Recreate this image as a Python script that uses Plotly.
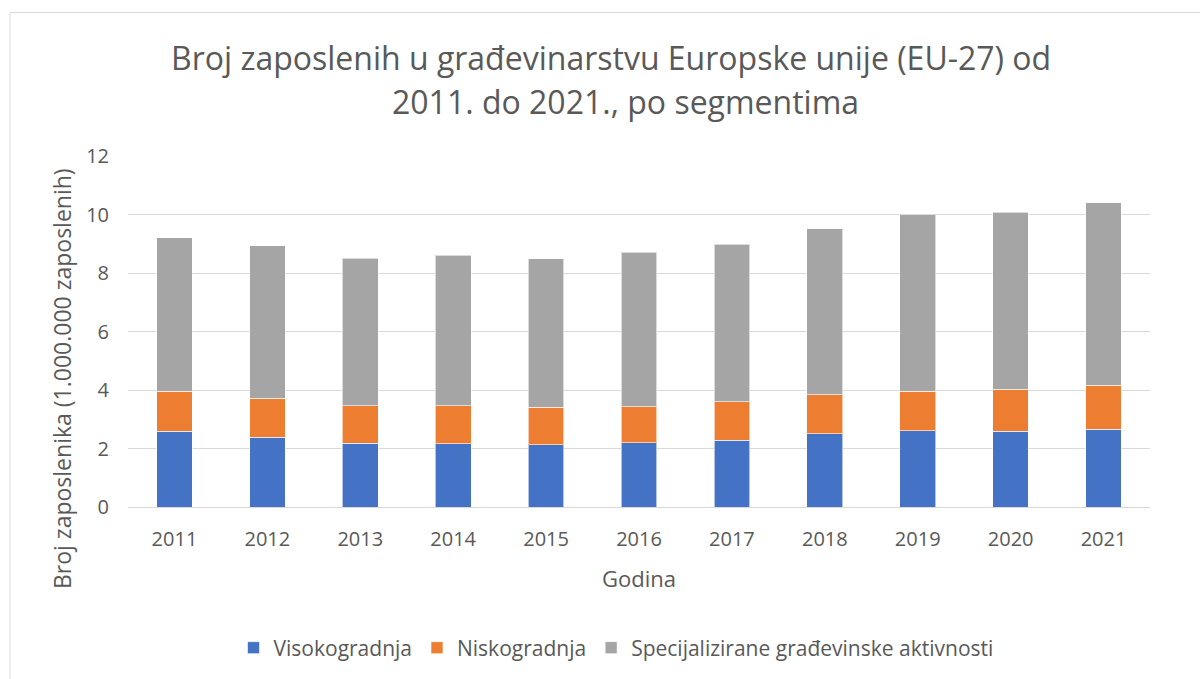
import plotly.graph_objects as go

years = ["2011", "2012", "2013", "2014", "2015", "2016", "2017", "2018", "2019", "2020", "2021"]
visokogradnja = [2.59, 2.38, 2.18, 2.16, 2.12, 2.19, 2.29, 2.50, 2.60, 2.59, 2.66]
niskogradnja = [1.37, 1.33, 1.28, 1.30, 1.29, 1.24, 1.30, 1.34, 1.36, 1.44, 1.50]
specijalizirane = [5.24, 5.22, 5.04, 5.15, 5.07, 5.28, 5.39, 5.68, 6.05, 6.05, 6.25]

series_names = ["Visokogradnja", "Niskogradnja", "Specijalizirane građevinske aktivnosti"]
colors = ["#4472C4", "#ED7D31", "#A5A5A5"]
title_lines = ["Broj zaposlenih u građevinarstvu Europske unije (EU-27) od",
               "2011. do 2021., po segmentima"]
x_title = "Godina"
y_title = "Broj zaposlenika (1.000.000 zaposlenih)"
y_ticks = [0, 2, 4, 6, 8, 10, 12]

FONT = "Open Sans"
TXT = "#595959"

fig = go.Figure()
for name, vals, col in zip(series_names, [visokogradnja, niskogradnja, specijalizirane], colors):
    fig.add_trace(go.Bar(
        x=years, y=vals, name=name,
        marker=dict(color=col, line=dict(color="rgba(255,255,255,0.6)", width=1)),
    ))

W, H = 1200, 679
L, R, T, B = 128, 50, 156, 172
pw = W - L - R
ph = H - T - B

def px_x(p):
    return (p - L) / pw

def px_y(p):
    return (H - B - p) / ph

fig.update_layout(
    width=W, height=H,
    barmode="stack",
    bargap=0.616,
    plot_bgcolor="white",
    paper_bgcolor="white",
    margin=dict(l=L, r=R, t=T, b=B, autoexpand=False),
    font=dict(family=FONT, color=TXT, size=18),
    showlegend=True,
    legend=dict(
        orientation="h", x=px_x(616), xanchor="center",
        y=px_y(648), yanchor="middle",
        font=dict(size=21, color=TXT, family=FONT),
        traceorder="normal",
        itemwidth=30,
    ),
    xaxis=dict(
        showgrid=False, showline=False, ticks="",
        tickfont=dict(size=20, color=TXT),
        ticklabelstandoff=18,
    ),
    yaxis=dict(
        range=[0, 12], tickvals=y_ticks,
        showgrid=True, gridcolor="#D9D9D9", gridwidth=1,
        zeroline=True, zerolinecolor="#D9D9D9", zerolinewidth=1,
        showline=False, ticks="",
        tickfont=dict(size=20, color=TXT),
        ticklabelstandoff=18,
    ),
    annotations=[
        dict(text=title_lines[0], xref="paper", yref="paper", x=px_x(611), y=px_y(58),
             xanchor="center", yanchor="middle", showarrow=False,
             font=dict(size=32, color=TXT, family=FONT)),
        dict(text=title_lines[1], xref="paper", yref="paper", x=px_x(625), y=px_y(101),
             xanchor="center", yanchor="middle", showarrow=False,
             font=dict(size=32, color=TXT, family=FONT)),
        dict(text=x_title, xref="paper", yref="paper", x=px_x(639), y=px_y(578),
             xanchor="center", yanchor="middle", showarrow=False,
             font=dict(size=22, color=TXT, family=FONT)),
        dict(text=y_title, xref="paper", yref="paper", x=px_x(62), y=px_y(379),
             xanchor="center", yanchor="middle", showarrow=False, textangle=-90,
             font=dict(size=23, color=TXT, family=FONT)),
    ],
    shapes=[
        dict(type="line", xref="paper", yref="paper", x0=px_x(10), x1=px_x(1205),
             y0=px_y(12.5), y1=px_y(12.5), line=dict(color="#D9D9D9", width=1)),
        dict(type="line", xref="paper", yref="paper", x0=px_x(10), x1=px_x(10),
             y0=px_y(12.5), y1=px_y(690), line=dict(color="#D9D9D9", width=1)),
    ],
)

fig.write_html("out.html")
